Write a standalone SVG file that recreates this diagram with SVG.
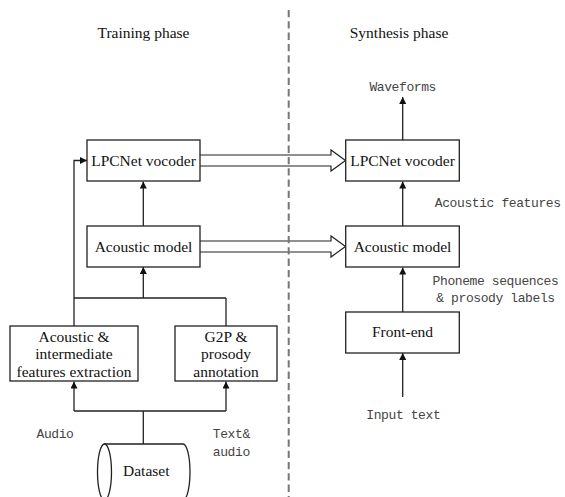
<svg xmlns="http://www.w3.org/2000/svg" width="565" height="497" viewBox="0 0 565 497">
<defs>
<style>
.box{fill:#fff;stroke:#222;stroke-width:1.3}
.t{font-family:"Liberation Serif","Times New Roman",serif;font-size:15.5px;fill:#111;text-anchor:middle}
.m{font-family:"Liberation Mono","Courier New",monospace;font-size:13px;letter-spacing:-0.4px;fill:#444;text-anchor:middle}
.c{fill:none;stroke:#222;stroke-width:1.3}
.h{fill:none;stroke:#222;stroke-width:1.2;stroke-linejoin:miter}
</style>
<marker id="ah" viewBox="0 0 10 10" refX="10" refY="5" markerWidth="7" markerHeight="7" markerUnits="userSpaceOnUse" orient="auto">
<path d="M0,0 L10,5 L0,10 Z" fill="#111"/>
</marker>
</defs>
<rect width="565" height="497" fill="#fff"/>
<text class="t" x="143.5" y="37.7">Training phase</text>
<text class="t" x="399" y="38">Synthesis phase</text>
<g id="connectors">
<path class="c" d="M143.3,226 V181.5" marker-end="url(#ah)"/>
<path class="c" d="M143.3,298 V267" marker-end="url(#ah)"/>
<path class="c" d="M74,298 H226"/>
<path class="c" d="M226,326 V298"/>
<path class="c" d="M74,326 V160.5 H87" marker-end="url(#ah)"/>
<path class="c" d="M143.3,444 V411"/>
<path class="c" d="M74,411 H226"/>
<path class="c" d="M74,411 V381.5" marker-end="url(#ah)"/>
<path class="c" d="M226,411 V381.5" marker-end="url(#ah)"/>
<path class="c" d="M402.7,140 V97" marker-end="url(#ah)"/>
<path class="c" d="M402.7,226 V181.5" marker-end="url(#ah)"/>
<path class="c" d="M402.7,312 V267.5" marker-end="url(#ah)"/>
<path class="c" d="M402.7,397 V353" marker-end="url(#ah)"/>
<path class="h" d="M200,155 H331 V150 L345.5,160.5 L331,171 V166 H200"/>
<path class="h" d="M200,241 H331 V236 L345.5,246.5 L331,257 V252 H200"/>
</g>
<line x1="288.7" y1="10" x2="288.7" y2="497" stroke="#777" stroke-width="2" stroke-dasharray="7.3,4"/>
<g id="lpcnet-train">
<rect class="box" x="87" y="140" width="113" height="41"/>
<text class="t" x="143.5" y="166">LPCNet vocoder</text>
</g>
<g id="acoustic-train">
<rect class="box" x="87" y="226" width="113" height="41"/>
<text class="t" x="143.5" y="252">Acoustic model</text>
</g>
<g id="feature-extraction">
<rect class="box" x="10" y="326" width="128" height="55"/>
<text class="t" x="74" y="341.5">Acoustic &amp;</text>
<text class="t" x="74" y="359">intermediate</text>
<text class="t" x="74" y="376.5">features extraction</text>
</g>
<g id="g2p">
<rect class="box" x="175" y="326" width="102" height="55"/>
<text class="t" x="226" y="341.5">G2P &amp;</text>
<text class="t" x="226" y="359">prosody</text>
<text class="t" x="226" y="376.5">annotation</text>
</g>
<g id="dataset">
<path class="box" d="M104.5,444 H183 A7,28 0 0 1 183,500 H104.5 Z"/>
<ellipse class="box" cx="104.5" cy="472" rx="7" ry="28"/>
<text class="t" x="146.3" y="476">Dataset</text>
</g>
<g id="lpcnet-synth">
<rect class="box" x="345.7" y="140" width="113.6" height="41"/>
<text class="t" x="402.5" y="166">LPCNet vocoder</text>
</g>
<g id="acoustic-synth">
<rect class="box" x="345.7" y="226" width="113.6" height="41"/>
<text class="t" x="402.5" y="252">Acoustic model</text>
</g>
<g id="frontend">
<rect class="box" x="345.7" y="312" width="113.6" height="41"/>
<text class="t" x="402.5" y="337">Front-end</text>
</g>
<text class="m" x="402.7" y="91">Waveforms</text>
<text class="m" x="497.7" y="206.7">Acoustic features</text>
<text class="m" x="495.5" y="285">Phoneme sequences</text>
<text class="m" x="495.5" y="302.3">&amp; prosody labels</text>
<text class="m" x="403.3" y="419.3">Input text</text>
<text class="m" x="55" y="437.7">Audio</text>
<text class="m" x="231.3" y="437.7">Text&amp;</text>
<text class="m" x="231.3" y="455.7">audio</text>
</svg>
